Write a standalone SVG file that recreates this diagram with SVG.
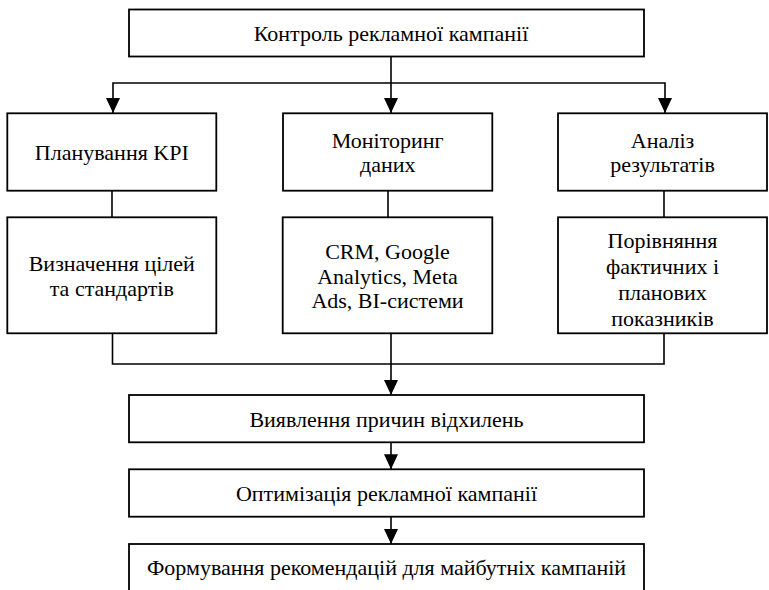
<svg xmlns="http://www.w3.org/2000/svg" width="769" height="590" viewBox="0 0 769 590">
<style>
.box{fill:#fff;stroke:#000;stroke-width:1.8}
.ln{fill:none;stroke:#000;stroke-width:1.6}
.t{font-family:'Liberation Serif','Times New Roman',serif;font-size:22px;fill:#000;text-anchor:middle}
</style>
<defs>
<marker id="ah" markerUnits="userSpaceOnUse" markerWidth="15" markerHeight="14" refX="15" refY="7" orient="auto">
<path d="M0,0 L15,7 L0,14 z" fill="#000"/>
</marker>
</defs>
<rect width="769" height="590" fill="#fff"/>
<g id="connectors">
<path class="ln" d="M391,56.5 V113" marker-end="url(#ah)"/>
<path class="ln" d="M391,83 H113 V113" marker-end="url(#ah)"/>
<path class="ln" d="M391,83 H665 V113" marker-end="url(#ah)"/>
<path class="ln" d="M112,190.7 V217.3"/>
<path class="ln" d="M388,190.7 V217.3"/>
<path class="ln" d="M664,190.7 V217.3"/>
<path class="ln" d="M112.5,333.3 V364 H664 V333.3"/>
<path class="ln" d="M391,333.3 V395" marker-end="url(#ah)"/>
<path class="ln" d="M391,442.3 V469.3" marker-end="url(#ah)"/>
<path class="ln" d="M391,516.7 V544" marker-end="url(#ah)"/>
</g>
<g id="n-top">
<rect class="box" x="129" y="9.5" width="515" height="47"/>
<text class="t" x="391" y="41">Контроль рекламної кампанії</text>
</g>
<g id="n-plan">
<rect class="box" x="7.3" y="113.3" width="209" height="77.4"/>
<text class="t" x="111.8" y="159.5">Планування KPI</text>
</g>
<g id="n-mon">
<rect class="box" x="283" y="113.3" width="209.3" height="77.4"/>
<text class="t" x="387.7" y="148">Моніторинг</text>
<text class="t" x="387.7" y="172">даних</text>
</g>
<g id="n-an">
<rect class="box" x="558" y="113.3" width="209" height="77.4"/>
<text class="t" x="662.5" y="148">Аналіз</text>
<text class="t" x="662.5" y="172">результатів</text>
</g>
<g id="n-goal">
<rect class="box" x="7.3" y="217.3" width="209" height="116"/>
<text class="t" x="111.8" y="271">Визначення цілей</text>
<text class="t" x="111.8" y="295.5">та стандартів</text>
</g>
<g id="n-tools">
<rect class="box" x="282.7" y="217.3" width="209.6" height="116"/>
<text class="t" x="387.5" y="259">CRM, Google</text>
<text class="t" x="387.5" y="283.5">Analytics, Meta</text>
<text class="t" x="387.5" y="308">Ads, BI-системи</text>
</g>
<g id="n-cmp">
<rect class="box" x="558" y="217.3" width="209" height="116"/>
<text class="t" x="662.5" y="247.5">Порівняння</text>
<text class="t" x="662.5" y="273.5">фактичних і</text>
<text class="t" x="662.5" y="299.5">планових</text>
<text class="t" x="662.5" y="325.5">показників</text>
</g>
<g id="n-cause">
<rect class="box" x="129" y="395" width="515" height="47.3"/>
<text class="t" x="386.5" y="426.5">Виявлення причин відхилень</text>
</g>
<g id="n-opt">
<rect class="box" x="129" y="469.3" width="515" height="47.4"/>
<text class="t" x="386.5" y="500.8">Оптимізація рекламної кампанії</text>
</g>
<g id="n-rec">
<rect class="box" x="129" y="544" width="515" height="48"/>
<text class="t" x="386.5" y="575">Формування рекомендацій для майбутніх кампаній</text>
</g>
</svg>
